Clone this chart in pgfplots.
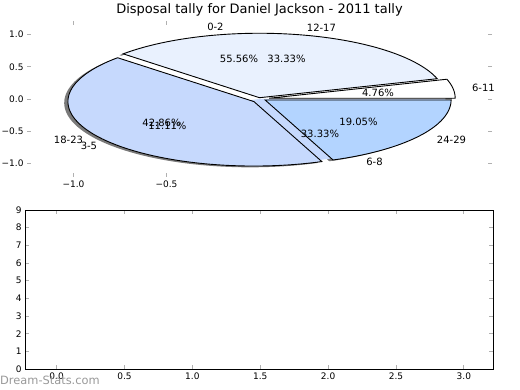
\documentclass[border=0pt]{standalone}
\usepackage{fontspec}
\setmainfont{DejaVu Sans}
\usepackage{pgfplots}
\pgfplotsset{compat=1.18}
\definecolor{cTop}{HTML}{E9F1FE}
\definecolor{cLeft}{HTML}{C6D9FD}
\definecolor{cRight}{HTML}{B3D4FF}
\definecolor{tickgray}{HTML}{B0B0B0}
\definecolor{shade}{HTML}{7A7A7A}
\newcommand{\tk}{\fontsize{9bp}{10bp}\selectfont}
\newcommand{\pl}{\fontsize{10bp}{11bp}\selectfont}
% wedge: {cx}{cy}{start angle}{end angle}{fill}{draw}
\newcommand{\wedgeplot}[6]{%
  \addplot[fill=#5, draw=#6, line width=0.9bp, domain=#3:#4, samples=72, variable=\t]
    ({#1+cos(\t)},{#2+sin(\t)}) -- (axis cs:#1,#2) -- cycle;}
\begin{document}
\begin{tikzpicture}
\path[use as bounding box] (0bp,0bp) rectangle (520bp,390bp);
% ---------------- top: pie charts ----------------
% pie 1: 0-2 55.56%, 3-5 11.11%, 6-8 33.33%  -> 0-200, 200-240, 240-360 deg
% pie 2: 6-11 4.76%, 12-17 33.33%, 18-23 42.86%, 24-29 19.05% -> 0-17.14, 17.14-137.14, 137.14-291.43, 291.43-360
\begin{axis}[
  at={(27bp,213bp)}, anchor=south west,
  scale only axis, width=465bp, height=156bp,
  xmin=-1.25, xmax=1.25, ymin=-1.21, ymax=1.21,
  axis line style={draw=none},
  xtick={-1,-0.5}, xticklabels={−1.0,−0.5},
  ytick={-1,-0.5,0,0.5,1}, yticklabels={−1.0,−0.5,0.0,0.5,1.0},
  tick align=inside, major tick length=4bp,
  tick style={tickgray, line width=0.9bp},
  tick label style={font=\tk, text=black},
  clip=false,
]
% shadows of pie 2
\wedgeplot{-0.02}{0.0}{17.14}{137.14}{shade}{none}
\wedgeplot{-0.05}{-0.06}{137.14}{291.43}{shade}{none}
\wedgeplot{0.01}{-0.035}{291.43}{360}{shade}{none}
\wedgeplot{0.034}{-0.008}{0}{17.14}{shade}{none}
% pie 1 (mostly hidden)
\wedgeplot{0}{0}{0}{200}{white}{none}
\wedgeplot{0}{0}{200}{240}{cLeft}{none}
\wedgeplot{0}{0}{240}{360}{cLeft}{none}
% pie 2
\wedgeplot{0}{0.02}{17.14}{137.14}{cTop}{black}
\wedgeplot{-0.03}{-0.04}{137.14}{291.43}{cLeft}{black}
\wedgeplot{0.03}{-0.015}{291.43}{360}{cRight}{black}
\wedgeplot{0.052}{0.012}{0}{17.14}{white}{black}
% labels
\node[font=\pl] at (axis cs:-0.237,1.116) {0-2};
\node[font=\pl] at (axis cs:0.333,1.10) {12-17};
\node[font=\pl] at (axis cs:1.204,0.171) {6-11};
\node[font=\pl] at (axis cs:1.032,-0.636) {24-29};
\node[font=\pl] at (axis cs:0.618,-0.977) {6-8};
\node[font=\pl] at (axis cs:-1.027,-0.636) {18-23};
\node[font=\pl] at (axis cs:-0.917,-0.729) {3-5};
\node[font=\pl] at (axis cs:-0.110,0.62) {55.56\%};
\node[font=\pl] at (axis cs:0.145,0.62) {33.33\%};
\node[font=\pl] at (axis cs:0.637,0.093) {4.76\%};
\node[font=\pl] at (axis cs:0.532,-0.357) {19.05\%};
\node[font=\pl] at (axis cs:0.325,-0.543) {33.33\%};
\node[font=\pl] at (axis cs:-0.527,-0.372) {42.86\%};
\node[font=\pl] at (axis cs:-0.495,-0.419) {11.11\%};
\end{axis}
% ---------------- bottom: empty axes ----------------
\begin{axis}[
  at={(25bp,21bp)}, anchor=south west,
  scale only axis, width=468bp, height=159bp,
  xmin=-0.233, xmax=3.215, ymin=0, ymax=9,
  xtick={0,0.5,1,1.5,2,2.5,3}, xticklabels={0.0,0.5,1.0,1.5,2.0,2.5,3.0},
  ytick={0,1,2,3,4,5,6,7,8,9}, yticklabels={0,1,2,3,4,5,6,7,8,9},
  axis line style={black, line width=0.9bp},
  tick align=inside, major tick length=4bp,
  tick style={tickgray, line width=0.9bp},
  tick label style={font=\tk, text=black},
]
\addplot[draw=none] coordinates {(0,0)};
\end{axis}
\node[font=\fontsize{13bp}{14bp}\selectfont] at (259.5bp,380bp) {Disposal tally for Daniel Jackson - 2011 tally};
\node[anchor=west, inner sep=0pt, text=black!40, font=\fontsize{11.4bp}{12bp}\selectfont] at (0bp,10bp) {Dream-Stats.com};
\end{tikzpicture}
\end{document}
